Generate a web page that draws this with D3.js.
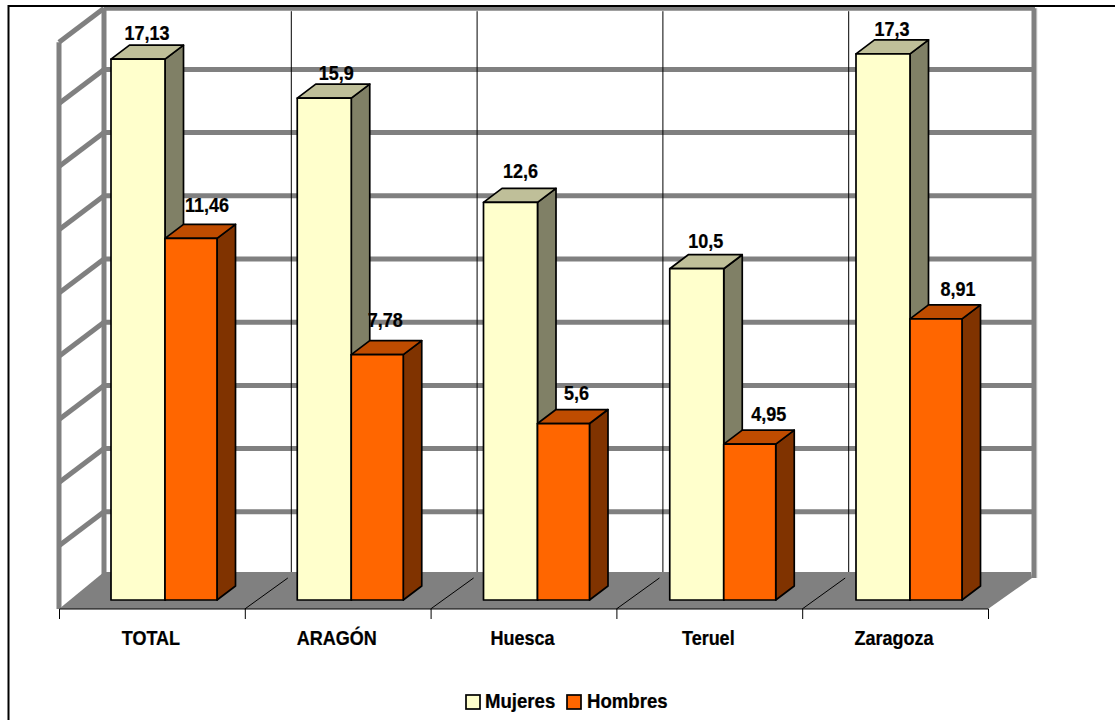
<!DOCTYPE html>
<html><head><meta charset="utf-8">
<script src="https://cdn.jsdelivr.net/npm/d3@7/dist/d3.min.js"></script>
<style>html,body{margin:0;padding:0;background:#fff}svg{display:block}
text{font-family:"Liberation Sans",Arial,sans-serif;font-weight:bold;fill:#000;stroke:#000;stroke-width:.25px}</style>
</head><body><svg id="c" width="1115" height="720"></svg>
<script>
const categories = ["TOTAL","ARAGÓN","Huesca","Teruel","Zaragoza"];
const mujeres = [17.13,15.9,12.6,10.5,17.3];
const hombres = [11.46,7.78,5.6,4.95,8.91];
const mujeresLabels = ["17,13","15,9","12,6","10,5","17,3"];
const hombresLabels = ["11,46","7,78","5,6","4,95","8,91"];
const yTicks = [0,2,4,6,8,10,12,14,16,18];
const seriesNames = ["Mujeres","Hombres"];

const svg = d3.select("#c");
const grey = "#808080";
const depth = {x:45,y:-34}, barDepth = {x:18.5,y:-14};
const x = d3.scaleBand().domain(categories).range([59,988]);
const xBars = d3.scaleBand().domain(categories).range([59,990.25]);
const inner = d3.scaleBand().domain(seriesNames).range([52,158]);
const y = d3.scaleLinear().domain([0,18]).range([600.5,600.5-31.6*18]);
const wallShift = -25.5, floorFront = 609;
const pts = a => a.map(p=>p.join(",")).join(" ");

// walls
const backL = x.range()[0]+depth.x, backR = x.range()[1]+depth.x+1;
const wall = svg.append("g").attr("stroke",grey).attr("stroke-width",5).attr("fill","none");
const topY = y(18)+wallShift+2;
svg.insert("line","g").attr("x1",backR+3).attr("x2",backR+3).attr("y1",topY).attr("y2",y(0)+wallShift+3)
  .attr("stroke","#e2e2e2").attr("stroke-width",1);
yTicks.slice(1,-1).forEach(t=>{
  const gy = y(t)+wallShift;
  wall.append("line").attr("x1",backL).attr("x2",backR).attr("y1",gy).attr("y2",gy);
  wall.append("line").attr("x1",59).attr("x2",backL).attr("y1",gy-depth.y).attr("y2",gy);
});
wall.append("line").attr("x1",backL).attr("x2",backR+1).attr("y1",topY).attr("y2",topY);
wall.append("line").attr("x1",59).attr("x2",backL).attr("y1",topY-depth.y).attr("y2",topY);
wall.append("line").attr("x1",59).attr("x2",59).attr("y1",topY-depth.y).attr("y2",floorFront);
wall.append("line").attr("x1",backL).attr("x2",backL).attr("y1",topY).attr("y2",y(0)+wallShift);
wall.append("line").attr("x1",backR).attr("x2",backR).attr("y1",topY).attr("y2",y(0)+wallShift+3);

// page frame
svg.append("path").attr("d","M8.5,720V6H1115").attr("fill","none").attr("stroke","#000").attr("stroke-width",2);

// vertical back gridlines
categories.slice(1).forEach(c=>{
  svg.append("line").attr("x1",x(c)+depth.x+1.5).attr("x2",x(c)+depth.x+1.5)
    .attr("y1",topY+3).attr("y2",y(0)+wallShift-3).attr("stroke","#000").attr("stroke-width",1);
});

// floor
svg.append("polygon").attr("fill",grey).attr("points",pts([
  [59,floorFront],[988,floorFront],[backR-2,y(0)+wallShift+3],[backR-3,y(0)+wallShift-3],[backL,y(0)+wallShift-3]
]));
categories.slice(1).forEach(c=>{
  svg.append("line").attr("x1",x(c)).attr("y1",floorFront).attr("x2",x(c)+depth.x-2).attr("y2",floorFront-31)
    .attr("stroke","#000").attr("stroke-width",1);
});

// category axis
const axis = d3.axisBottom(x).tickSize(0);
const ax = svg.append("g").attr("transform",`translate(0,${floorFront-.5})`).call(axis);
ax.select(".domain").attr("stroke","#000");
ax.selectAll(".tick").each(function(){
  const t=d3.select(this).select("text");
  t.attr("dy",0).attr("y",0).attr("transform","translate(-1,36) scale(.9,1)").style("font-size","20px");
});
[...categories.map(c=>x(c)),x.range()[1]].forEach(v=>{
  svg.append("line").attr("x1",v+.5).attr("x2",v+.5).attr("y1",floorFront).attr("y2",floorFront+10)
    .attr("stroke","#000").attr("stroke-width",1);
});

// bars
const palettes = {
  Mujeres:{front:"#FFFFCC",top:"#BFBF99",side:"#808066"},
  Hombres:{front:"#FF6600",top:"#BF4C00",side:"#803300"}
};
function bar(x0,x1,v,p){
  const t=y(v), b=y(0)-.5, d=barDepth;
  const g=svg.append("g").attr("stroke","#000").attr("stroke-width",1.7).attr("stroke-linejoin","round");
  g.append("polygon").attr("fill",p.side).attr("points",pts([[x1,t],[x1+d.x,t+d.y],[x1+d.x,b+d.y],[x1,b]]));
  g.append("polygon").attr("fill",p.top).attr("points",pts([[x0,t],[x0+d.x,t+d.y],[x1+d.x,t+d.y],[x1,t]]));
  g.append("rect").attr("x",x0).attr("y",t).attr("width",x1-x0).attr("height",b-t).attr("fill",p.front);
}
categories.forEach((c,i)=>{
  const base=xBars(c);
  bar(base+inner("Mujeres"),base+inner("Hombres")+1,mujeres[i],palettes.Mujeres);
  bar(base+inner("Hombres")+1,base+inner("Hombres")+inner.bandwidth(),hombres[i],palettes.Hombres);
});

// data labels
const labelDxM=[36,39,37,36,36], labelDxH=[43,35,40,46,49];
const labelDyM=[19,18,24,21,18], labelDyH=[26,28,24,23,23];
function dataLabel(px,py,s){
  svg.append("text").attr("text-anchor","middle")
    .attr("transform",`translate(${px},${py}) scale(.9,1)`)
    .style("font-size","20px").text(s);
}
categories.forEach((c,i)=>{
  const base=xBars(c);
  dataLabel(base+inner("Mujeres")+labelDxM[i],y(mujeres[i])-labelDyM[i],mujeresLabels[i]);
  dataLabel(base+inner("Hombres")+labelDxH[i],y(hombres[i])-labelDyH[i],hombresLabels[i]);
});

// legend
const legendX=[466,567], legendTextX=[485,587];
seriesNames.forEach((n,i)=>{
  svg.append("rect").attr("x",legendX[i]).attr("y",695).attr("width",14).attr("height",14)
    .attr("fill",palettes[n].front).attr("stroke","#000").attr("stroke-width",1.7);
  svg.append("text").attr("transform",`translate(${legendTextX[i]},708) scale(.93,1)`).style("font-size","20px").text(n);
});
</script></body></html>
